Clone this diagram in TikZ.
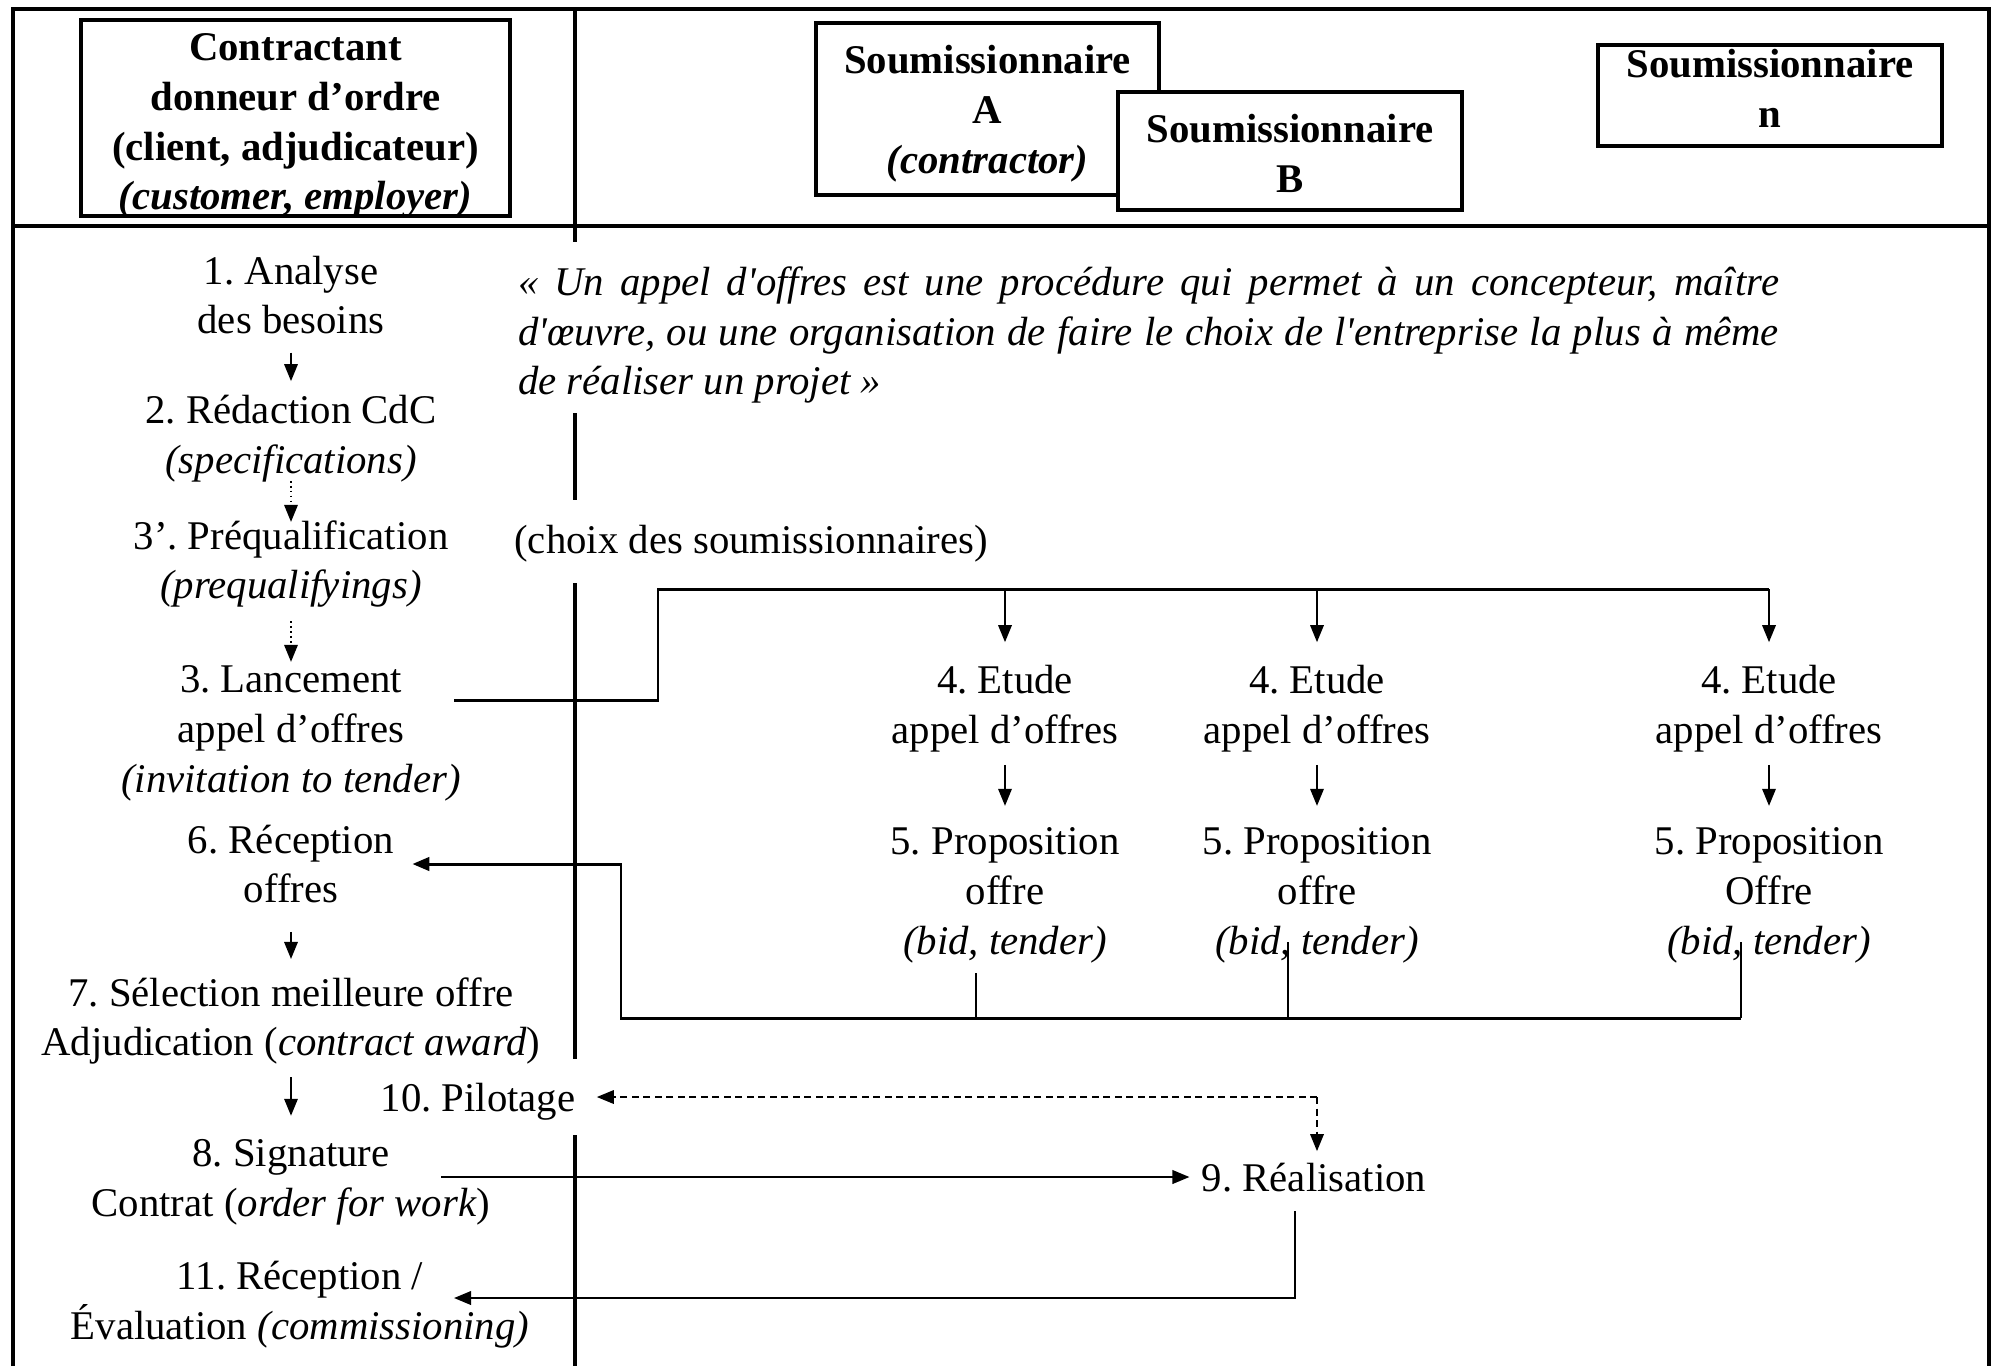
\documentclass[tikz,border=0pt]{standalone}
\usepackage{fontspec}
\setmainfont{Liberation Serif}
\newfontfamily\qfont{Liberation Serif}
\usetikzlibrary{arrows.meta}
\frenchspacing
\begin{document}
\frenchspacing
\begin{tikzpicture}[x=0.1mm,y=-0.1mm,
  lbl/.style={font=\fontsize{11.6}{14.2}\selectfont\frenchspacing, align=center},
  hdrbox/.style={draw, line width=1pt, fill=white, inner sep=0pt},
  hdrtext/.style={inner sep=0pt, font=\fontsize{11.6}{14.2}\selectfont\bfseries, align=center},
  arr/.style={-{Triangle[length=1.7mm,width=1.35mm]}, line width=0.5pt},
  dotarr/.style={arr, dash pattern=on 0.5pt off 0.9pt},
  dasharr/.style={arr, dash pattern=on 0.7mm off 0.45mm},
  frame/.style={line width=1.4pt},
  bar/.style={line width=0.85pt},
  thinline/.style={line width=0.45pt}]
\useasboundingbox (0,0) rectangle (1995,1366);
% frame and separators
\draw[frame, line join=miter] (13,1366) -- (13,9) -- (1989,9) -- (1989,1366);
\draw[frame] (13,226) -- (1989,226);
\draw[frame] (575,9) -- (575,242);
\draw[frame] (575,413) -- (575,500);
\draw[frame] (575,583) -- (575,1059);
\draw[frame] (575,1135) -- (575,1366);
% header boxes
\node[hdrbox, minimum width=42.9mm, minimum height=19.6mm] (client) at (295.5,118) {};
\node[hdrtext] (clientT) at ([yshift=-0.8mm]client.center)
  {Contractant\\donneur d’ordre\\(client, adjudicateur)\\\textit{(customer, employer)}};
\node[hdrbox, minimum width=34.3mm, minimum height=17.2mm] (sA) at (987.5,109) {};
\node[hdrtext] (sAT) at ([yshift=-0.5mm]sA.center)
  {Soumissionnaire\\A\\\textit{(contractor)}};
\node[hdrbox, minimum width=34.4mm, minimum height=11.8mm] (sB) at (1290,151) {};
\node[hdrtext] (sBT) at ([yshift=-0.25mm]sB.center) {Soumissionnaire\\B};
\node[hdrbox, minimum width=34.4mm, minimum height=10.1mm] (sN) at (1770,95.5) {};
\node[hdrtext] (sNT) at ([yshift=0.75mm]sN.center) {Soumissionnaire\\n};
% left column
\node[lbl] (s1) at (291,295) {1. Analyse\\des besoins};
\node[lbl] (s2) at (291,439) {2. Rédaction CdC\\\textit{(specifications)}};
\node[lbl] (s3p) at (291,564) {3’. Préqualification\\\textit{(prequalifyings)}};
\node[lbl] (s3) at (291,733) {3. Lancement\\appel d’offres\\\textit{(invitation to tender)}};
\node[lbl] (s6) at (291,864) {6. Réception\\offres};
\node[lbl] (s7) at (291,1021) {7. Sélection meilleure offre\\Adjudication (\textit{contract award})};
\node[lbl] (s10) at (478,1102) {10. Pilotage};
\node[lbl] (s8) at (291,1182) {8. Signature\\Contrat (\textit{order for work})};
\node[lbl] (s11) at (300,1305) {11. Réception /\\Évaluation \textit{(commissioning)}};
% quote and note
\node[text width=126.1mm, align=justify, inner sep=0pt,
  font=\fontsize{11.6}{14.2}\selectfont\qfont\itshape] (quote) at (1148.5,335)
  {«~Un appel d'offres est une procédure qui permet à un concepteur, maître\linebreak
   d'œuvre, ou une organisation de faire le choix de l'entreprise la plus à même\linebreak
   de réaliser un projet~»};
\node[lbl] (choix) at (751,544) {(choix des soumissionnaires)};
% bidders columns
\node[lbl] (e1) at (1005,709) {4. Etude\\appel d’offres};
\node[lbl] (e2) at (1317,709) {4. Etude\\appel d’offres};
\node[lbl] (e3) at (1769,709) {4. Etude\\appel d’offres};
\node[lbl] (p1) at (1005,895) {5. Proposition\\offre\\\textit{(bid, tender)}};
\node[lbl] (p2) at (1317,895) {5. Proposition\\offre\\\textit{(bid, tender)}};
\node[lbl] (p3) at (1769,895) {5. Proposition\\Offre\\\textit{(bid, tender)}};
\node[lbl] (r9) at (1314,1178) {9. Réalisation};
% client-side arrows
\draw[arr, shorten <=0.6mm, shorten >=0.2mm] (s1.south) -- (s1.south |- s2.north);
\draw[dotarr, shorten <=-1.4mm, shorten >=-1.4mm] (s2.south) -- (s2.south |- s3p.north);
\draw[dotarr, shorten <=0.1mm, shorten >=-0.9mm] (s3p.south) -- (s3p.south |- s3.north);
\draw[arr, shorten <=1.6mm, shorten >=0.6mm] (s6.south) -- (s6.south |- s7.north);
\draw[arr, shorten >=1.1mm] (s7.south) -- (s7.south |- s8.north);
% launch bracket
\coordinate (b0) at (454,700);
\coordinate (bt) at (658,589);
\draw[bar] (b0) -| (bt) -- (bt -| e3.north);
\draw[arr, shorten >=1.1mm] (bt -| e1.north) -- (e1.north);
\draw[arr, shorten >=1.1mm] (bt -| e2.north) -- (e2.north);
\draw[arr, shorten >=1.1mm] (bt -| e3.north) -- (e3.north);
\draw[arr, shorten >=0.9mm] (e1) -- (p1);
\draw[arr, shorten >=0.9mm] (e2) -- (p2);
\draw[arr, shorten >=0.9mm] (e3) -- (p3);
% offers back to client
\coordinate (q1) at (976,973);
\coordinate (q2) at (1288,942);
\coordinate (q3) at (1741,942);
\coordinate (rb) at (621,1018);
\draw[thinline] (q1) -- (q1 |- rb);
\draw[thinline] (q2) -- (q2 |- rb);
\draw[thinline] (q3) -- (q3 |- rb);
\draw[arr, line width=0.85pt, shorten >=0.6mm] (q3 |- rb) -- (rb) -- (rb |- s6.east) -- (s6.east);
% piloting (dashed)
\coordinate (dc) at (1317,1097);
\draw[dasharr, shorten >=0.9mm] (dc) -- (dc -| s10.east);
\draw[dasharr] (dc) -- (dc |- r9.north);
% contract to realisation
\coordinate (sg) at (441,1177);
\draw[arr, line width=0.6pt] (sg) -- (sg -| r9.west);
% realisation to acceptance
\coordinate (rv) at (1295,1211);
\coordinate (t11) at (454,1298);
\draw[arr, line width=0.6pt] (rv) |- (t11);
\end{tikzpicture}
\end{document}
